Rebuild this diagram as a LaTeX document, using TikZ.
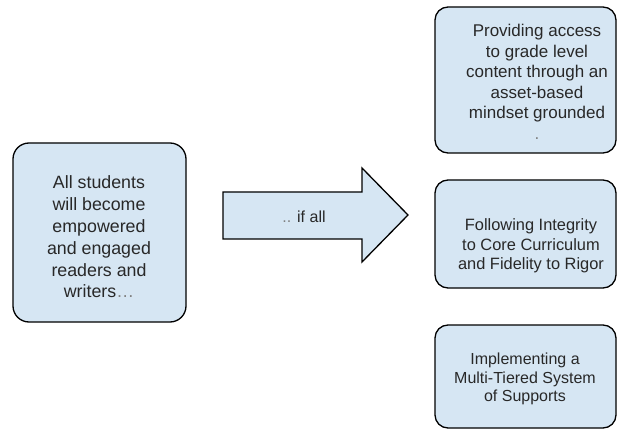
\documentclass[tikz,border=0pt]{standalone}
\usepackage{fontspec}
\setmainfont{Liberation Sans}
\definecolor{boxfill}{RGB}{214,230,243}
\definecolor{txt}{RGB}{40,40,40}
\begin{document}
\begin{tikzpicture}[x=1pt,y=-1pt,
  goalbox/.style={draw=black,line width=1.3pt,fill=boxfill,rounded corners=14pt},
  lbl/.style={text=txt,align=center,inner sep=0pt}]
\useasboundingbox (0,0) rectangle (618,430);
\fill[white] (0,0) rectangle (618,430);
% left box
\draw[goalbox,rounded corners=16pt] (13,143) rectangle (186,322);
\node[lbl,font=\fontsize{17.8}{21.8}\selectfont] (goal) at (99,237) {All students\\will become\\empowered\\and engaged\\readers and\\writers\textcolor{gray}{\ldots}};
% arrow
\draw[draw=black,line width=1.3pt,fill=boxfill,line join=miter]
  (223,192) -- (362,192) -- (362,168) -- (408,215) -- (362,262) -- (362,239) -- (223,239) -- cycle;
\node[lbl,font=\fontsize{16}{19}\selectfont] (ifall) at (304,217) {\textcolor{gray}{..} if all};
% right boxes
\draw[goalbox,rounded corners=13pt] (435,7) rectangle (616,153);
\node[lbl,font=\fontsize{17}{20.5}\selectfont] (b1) at (537,82) {Providing access\\to grade level\\content through an\\asset-based\\mindset grounded\\\textcolor{gray}{.}};
\draw[goalbox,rounded corners=13pt] (435,180) rectangle (616,288);
\node[lbl,font=\fontsize{16.4}{19.5}\selectfont] (b2) at (531,246) {Following Integrity\\to Core Curriculum\\and Fidelity to Rigor};
\draw[goalbox,rounded corners=13pt] (435,325) rectangle (616,428);
\node[lbl,font=\fontsize{16}{18.5}\selectfont] (b3) at (525,379) {Implementing a\\Multi-Tiered System\\of Supports};
\end{tikzpicture}
\end{document}
